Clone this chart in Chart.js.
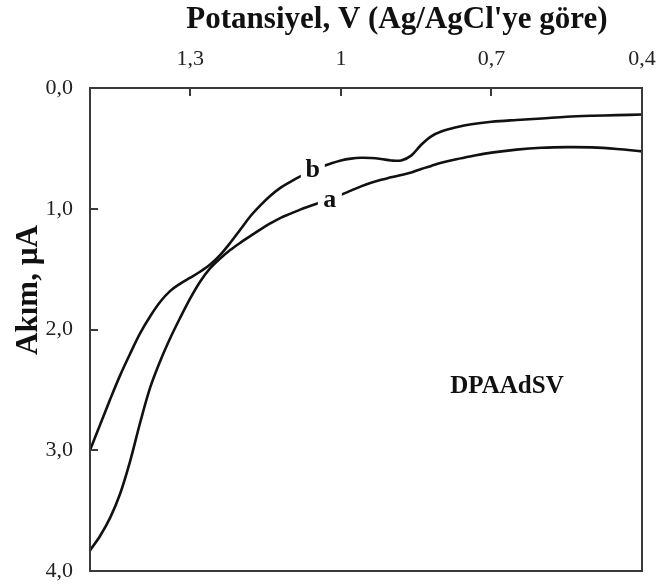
<!DOCTYPE html>
<html>
<head>
<meta charset="utf-8">
<title>DPAAdSV</title>
<script src="https://cdn.jsdelivr.net/npm/chart.js@4.4.1/dist/chart.umd.min.js"></script>
<style>
  html, body { margin: 0; padding: 0; background: #fff; }
  #wrap { width: 663px; height: 585px; }
</style>
</head>
<body>
<div id="wrap"><canvas id="voltChart" width="663" height="585"></canvas></div>
<script>
/* values: potential (V) and current (µA) */
const potentials = [1.50, 1.48, 1.46, 1.44, 1.42, 1.40, 1.38, 1.36, 1.34, 1.32, 1.30, 1.28, 1.26, 1.24, 1.22,
  1.20, 1.18, 1.16, 1.14, 1.12, 1.10, 1.08, 1.06, 1.04, 1.02, 1.00, 0.98, 0.96, 0.94, 0.92, 0.90, 0.88,
  0.86, 0.84, 0.82, 0.80, 0.77, 0.74, 0.70, 0.65, 0.60, 0.55, 0.50, 0.45, 0.40];
const currentA = [3.83, 3.71, 3.56, 3.36, 3.09, 2.77, 2.48, 2.26, 2.07, 1.90, 1.74, 1.60, 1.49, 1.41, 1.34,
  1.28, 1.225, 1.17, 1.12, 1.075, 1.04, 1.005, 0.975, 0.945, 0.915, 0.885, 0.85, 0.815, 0.785, 0.76, 0.74, 0.72,
  0.70, 0.67, 0.645, 0.62, 0.59, 0.565, 0.535, 0.51, 0.495, 0.49, 0.492, 0.505, 0.525];
const currentB = [3.00, 2.79, 2.58, 2.38, 2.20, 2.03, 1.89, 1.77, 1.68, 1.62, 1.57, 1.52, 1.46, 1.38, 1.28,
  1.17, 1.06, 0.97, 0.89, 0.825, 0.775, 0.73, 0.69, 0.655, 0.625, 0.60, 0.585, 0.578, 0.58, 0.588, 0.60, 0.60,
  0.56, 0.47, 0.40, 0.36, 0.325, 0.30, 0.28, 0.265, 0.252, 0.238, 0.23, 0.225, 0.22];
const xTicks = [1.3, 1.0, 0.7, 0.4];
const yTicks = [0, 1, 2, 3, 4];

const serif = '"Liberation Serif", "Times New Roman", serif';

function commaNum(v, digits) {
  return (digits ? v.toFixed(digits) : String(+v.toFixed(1))).replace('.', ',');
}

function toPoints(ys) {
  return potentials.map((v, i) => ({ x: v, y: ys[i] }));
}

/* frame, inward ticks, titles and labels */
const decorPlugin = {
  id: 'decor',
  beforeDraw(chart) {
    const c = chart.ctx;
    c.save();
    c.fillStyle = '#fff';
    c.fillRect(0, 0, chart.width, chart.height);
    c.restore();
  },
  afterDatasetsDraw(chart) {
    const c = chart.ctx;
    const a = chart.chartArea;
    const x = chart.scales.x, y = chart.scales.y;
    c.save();
    c.strokeStyle = '#3a3a3a';
    c.lineWidth = 2;
    c.strokeRect(a.left, a.top, a.right - a.left, a.bottom - a.top);
    c.beginPath();
    xTicks.forEach(v => {
      const px = Math.round(x.getPixelForValue(v));
      c.moveTo(px, a.top); c.lineTo(px, a.top + 8);
    });
    yTicks.forEach(v => {
      const py = Math.round(y.getPixelForValue(v));
      c.moveTo(a.left, py); c.lineTo(a.left + 8, py);
    });
    c.stroke();

    // curve names, with a white patch that cuts the line
    c.textAlign = 'center';
    c.textBaseline = 'middle';
    c.font = 'bold 26px ' + serif;
    [['b', 1.056, 0.68], ['a', 1.022, 0.93]].forEach(l => {
      const px = x.getPixelForValue(l[1]), py = y.getPixelForValue(l[2]);
      c.fillStyle = '#fff';
      c.fillRect(px - 12, py - 12, 24, 24);
      c.fillStyle = '#111';
      c.fillText(l[0], px, py);
    });

    c.font = 'bold 25px ' + serif;
    c.fillText('DPAAdSV', x.getPixelForValue(0.669), y.getPixelForValue(2.47));

    // axis titles
    c.font = 'bold 31px ' + serif;
    c.textBaseline = 'alphabetic';
    c.fillText("Potansiyel, V (Ag/AgCl'ye göre)", 397, 28);
    c.translate(37, 290);
    c.rotate(-Math.PI / 2);
    c.fillText('Akım, µA', 0, 0);
    c.restore();
  }
};

const ctx = document.getElementById('voltChart').getContext('2d');

new Chart(ctx, {
  type: 'line',
  data: {
    datasets: [
      {
        label: 'a',
        data: toPoints(currentA),
        borderColor: '#111',
        borderWidth: 2.6,
        pointRadius: 0,
        tension: 0.35,
        fill: false
      },
      {
        label: 'b',
        data: toPoints(currentB),
        borderColor: '#111',
        borderWidth: 2.6,
        pointRadius: 0,
        tension: 0.35,
        fill: false
      }
    ]
  },
  options: {
    responsive: false,
    animation: false,
    devicePixelRatio: 1,
    layout: { padding: { left: 0, top: 0, right: 21, bottom: 14 } },
    plugins: {
      legend: { display: false },
      tooltip: { enabled: false },
      title: { display: false }
    },
    scales: {
      x: {
        type: 'linear',
        position: 'top',
        reverse: true,
        min: 0.4,
        max: 1.5,
        grid: { display: false },
        border: { display: false },
        afterBuildTicks: s => { s.ticks = xTicks.map(v => ({ value: v })); },
        afterFit: s => { s.height = 88; s.paddingLeft = 0; s.paddingRight = 0; },
        ticks: {
          autoSkip: false,
          maxRotation: 0,
          padding: 8,
          color: '#222',
          font: { family: serif, size: 22 },
          callback: v => commaNum(v, 0)
        }
      },
      y: {
        type: 'linear',
        reverse: true,
        min: 0,
        max: 4,
        grid: { display: false },
        border: { display: false },
        afterBuildTicks: s => { s.ticks = yTicks.map(v => ({ value: v })); },
        afterFit: s => { s.width = 90; s.paddingTop = 0; s.paddingBottom = 0; },
        ticks: {
          padding: 9,
          color: '#222',
          font: { family: serif, size: 22 },
          callback: v => commaNum(v, 1)
        }
      }
    }
  },
  plugins: [decorPlugin]
});
</script>
</body>
</html>
